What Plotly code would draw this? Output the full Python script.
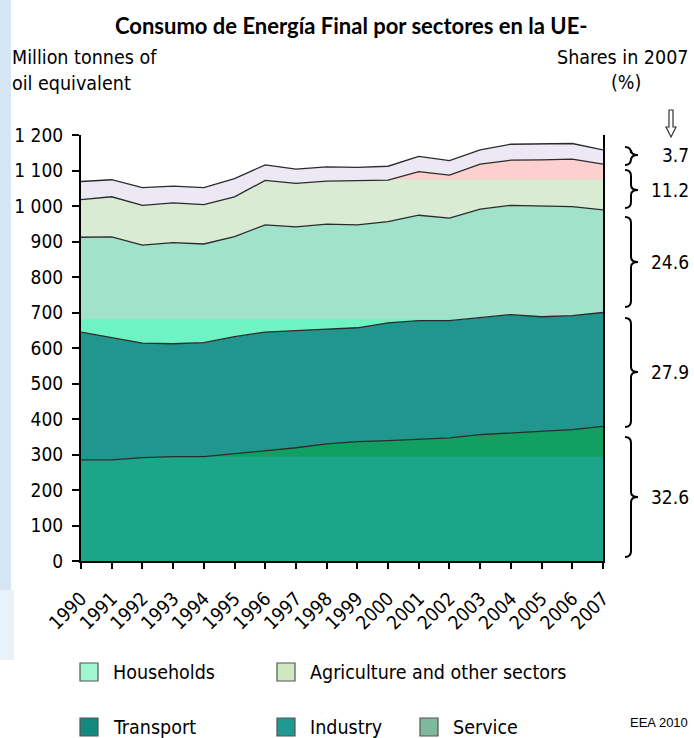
import numpy as np
import plotly.graph_objects as go

# ---------------- data ----------------
years = list(range(1990, 2008))
transport   = [285, 285, 291, 294, 294, 302, 311, 319, 330, 336, 339, 344, 347, 356, 361, 364, 370, 379]
industry    = [360, 344, 323, 318, 321, 330, 334, 330, 324, 321, 332, 333, 330, 329, 333, 324, 321, 321]
households  = [267, 284, 276, 285, 278, 282, 302, 292, 295, 290, 285, 297, 289, 306, 308, 313, 307, 289]
services    = [106, 113, 112, 112, 111, 112, 125, 123, 121, 125, 117, 123, 121, 127, 127, 129, 134, 129]
agriculture = [51, 48, 50, 47, 48, 51, 44, 40, 40, 37, 39, 43, 41, 40, 45, 44, 44, 40]
shares_2007 = [3.7, 11.2, 24.6, 27.9, 32.6]
ytick_vals  = [0, 100, 200, 300, 400, 500, 600, 700, 800, 900, 1000, 1100, 1200]
ytick_text  = ["0", "100", "200", "300", "400", "500", "600", "700", "800", "900",
               "1 000", "1 100", "1 200"]
legend_row1 = ["Households", "Agriculture and other sectors"]
legend_row2 = ["Transport", "Industry", "Service"]

# ---------------- geometry helpers ----------------
W, H = 694, 738
L, R, T, B = 81, 603, 135, 561
PW, PH = R - L, B - T


def fx(px):
    return (px - L) / PW


def fy(py):
    return (B - py) / PH


FONT = "DejaVu Sans Condensed, DejaVu Sans, sans-serif"

c_trans = "#1ba68a"
c_trans2 = "#11a062"
c_ind = "#21968f"
c_hh = "#a0e2ca"
c_hh2 = "#6ef3c2"
c_serv = "#d9ecd3"
c_serv2 = "#fdd0d0"
c_agr = "#ece8f4"
c_line = "#2b2b2b"

t_top = np.array(transport, dtype=float)
i_top = t_top + np.array(industry)
h_top = i_top + np.array(households)
s_top = h_top + np.array(services)
a_top = s_top + np.array(agriculture)

fig = go.Figure()

# stacked areas
for vals, col, name in [(transport, c_trans, "Transport"), (industry, c_ind, "Industry"),
                        (households, c_hh, "Households"), (services, c_serv, "Service"),
                        (agriculture, c_agr, "Agriculture and other sectors")]:
    fig.add_trace(go.Scatter(x=years, y=vals, stackgroup="s", mode="none",
                             fillcolor=col, name=name, showlegend=False,
                             hoverinfo="skip"))


# colour bands seen in the picture (closed polygons between two boundaries)
def band(base, top, col):
    xs = years + years[::-1]
    ys = list(top) + list(base)[::-1]
    fig.add_trace(go.Scatter(x=xs, y=ys, mode="none", fill="toself", fillcolor=col,
                             showlegend=False, hoverinfo="skip"))


n = len(years)
band(np.full(n, 294.0), np.maximum(t_top, 294.0), c_trans2)
band(i_top, np.maximum(i_top, 682.0), c_hh2)
band(np.full(n, 1075.0), np.maximum(s_top, 1075.0), c_serv2)

# boundary lines
for top in [t_top, i_top, h_top, s_top, a_top]:
    fig.add_trace(go.Scatter(x=years, y=top, mode="lines",
                             line=dict(color=c_line, width=1.3),
                             showlegend=False, hoverinfo="skip"))

shapes = []
annotations = []

# left blue strip
shapes.append(dict(type="rect", xref="paper", yref="paper", layer="below",
                   x0=fx(0), x1=fx(11), y0=fy(0), y1=fy(590),
                   fillcolor="#d6e6f4", line=dict(width=0)))
shapes.append(dict(type="rect", xref="paper", yref="paper", layer="below",
                   x0=fx(0), x1=fx(14), y0=fy(590), y1=fy(660),
                   fillcolor="#d6e6f4", opacity=0.5, line=dict(width=0)))

# braces and share labels
brace_px = [(147, 165, 155), (170, 208, 190), (217, 307, 262), (318, 427, 372), (437, 557, 497)]
for (y1, y2, ym), s in zip(brace_px, shares_2007):
    xe, xs, xt = 625, 631, 638
    p = (f"M {fx(xe)},{fy(y1)} Q {fx(xs)},{fy(y1)} {fx(xs)},{fy(y1 + 6)} "
         f"L {fx(xs)},{fy(ym - 5)} Q {fx(xs)},{fy(ym)} {fx(xt)},{fy(ym)} "
         f"Q {fx(xs)},{fy(ym)} {fx(xs)},{fy(ym + 5)} "
         f"L {fx(xs)},{fy(y2 - 6)} Q {fx(xs)},{fy(y2)} {fx(xe)},{fy(y2)}")
    shapes.append(dict(type="path", xref="paper", yref="paper", path=p,
                       line=dict(color="black", width=2)))
    annotations.append(dict(xref="paper", yref="paper", x=fx(691), y=fy(ym),
                            text=f"{s}", showarrow=False, xanchor="right", yanchor="middle",
                            font=dict(family=FONT, size=19, color="black")))

# hollow down arrow
ap = (f"M {fx(669)},{fy(110)} L {fx(673)},{fy(110)} L {fx(673)},{fy(127)} "
      f"L {fx(676)},{fy(127)} L {fx(671)},{fy(137)} L {fx(666)},{fy(127)} "
      f"L {fx(669)},{fy(127)} Z")
shapes.append(dict(type="path", xref="paper", yref="paper", path=ap,
                   line=dict(color="#333333", width=1.2), fillcolor="white"))

# legend (custom)
leg_cols = {"Households": "#9ff7d0", "Agriculture and other sectors": "#cfe8c0",
            "Transport": "#138a80", "Industry": "#1f9a92", "Service": "#7fb89a"}
rows = [(legend_row1, 672, [80, 277]), (legend_row2, 727, [80, 277, 420])]
for labels, yc, xs in rows:
    for lab, x0 in zip(labels, xs):
        shapes.append(dict(type="rect", xref="paper", yref="paper",
                           x0=fx(x0), x1=fx(x0 + 18), y0=fy(yc + 9), y1=fy(yc - 9),
                           fillcolor=leg_cols[lab], line=dict(color="#555555", width=1.2)))
        annotations.append(dict(xref="paper", yref="paper", x=fx(x0 + 31), y=fy(yc),
                                text=lab, showarrow=False, xanchor="left", yanchor="middle",
                                font=dict(family=FONT, size=19.5, color="black")))

# texts
annotations += [
    dict(xref="paper", yref="paper", x=fx(351), y=fy(26), text="<b>Consumo de Energía Final por sectores en la UE-</b>",
         showarrow=False, xanchor="center", yanchor="middle",
         font=dict(family="Lato, Open Sans, sans-serif", size=22, color="black")),
    dict(xref="paper", yref="paper", x=fx(10), y=fy(58), text="Million tonnes of",
         showarrow=False, xanchor="left", yanchor="middle",
         font=dict(family=FONT, size=19.5, color="black")),
    dict(xref="paper", yref="paper", x=fx(10), y=fy(83), text="oil equivalent",
         showarrow=False, xanchor="left", yanchor="middle",
         font=dict(family=FONT, size=19.5, color="black")),
    dict(xref="paper", yref="paper", x=fx(691), y=fy(57), text="Shares in 2007",
         showarrow=False, xanchor="right", yanchor="middle",
         font=dict(family=FONT, size=19.5, color="black")),
    dict(xref="paper", yref="paper", x=fx(626), y=fy(82), text="(%)",
         showarrow=False, xanchor="center", yanchor="middle",
         font=dict(family=FONT, size=19.5, color="black")),
    dict(xref="paper", yref="paper", x=fx(690), y=fy(722), text="EEA 2010",
         showarrow=False, xanchor="right", yanchor="middle",
         font=dict(family="Liberation Sans, Arial, sans-serif", size=13, color="black")),
]

fig.update_layout(
    width=W, height=H,
    margin=dict(l=L, r=W - R, t=T, b=H - B, pad=0),
    paper_bgcolor="white", plot_bgcolor="white",
    showlegend=False,
    shapes=shapes, annotations=annotations,
    xaxis=dict(range=[1990, 2007], tickmode="array", tickvals=years,
               ticktext=[str(y) for y in years], tickangle=-45,
               ticks="outside", ticklen=6, tickwidth=1.5, tickcolor="black",
               ticklabelstandoff=11,
               showline=True, linecolor="black", linewidth=2, showgrid=False, zeroline=False,
               tickfont=dict(family=FONT, size=19, color="black")),
    yaxis=dict(range=[0, 1200], tickmode="array", tickvals=ytick_vals, ticktext=ytick_text,
               ticks="outside", ticklen=7, tickwidth=1.5, tickcolor="black",
               ticklabelstandoff=5,
               showline=True, mirror=True, linecolor="black", linewidth=2,
               showgrid=False, zeroline=False,
               tickfont=dict(family=FONT, size=19, color="black")),
)

fig.write_html("out.html", config={"displayModeBar": False},
               post_script="document.body.style.margin='0';document.body.style.overflow='hidden';")
